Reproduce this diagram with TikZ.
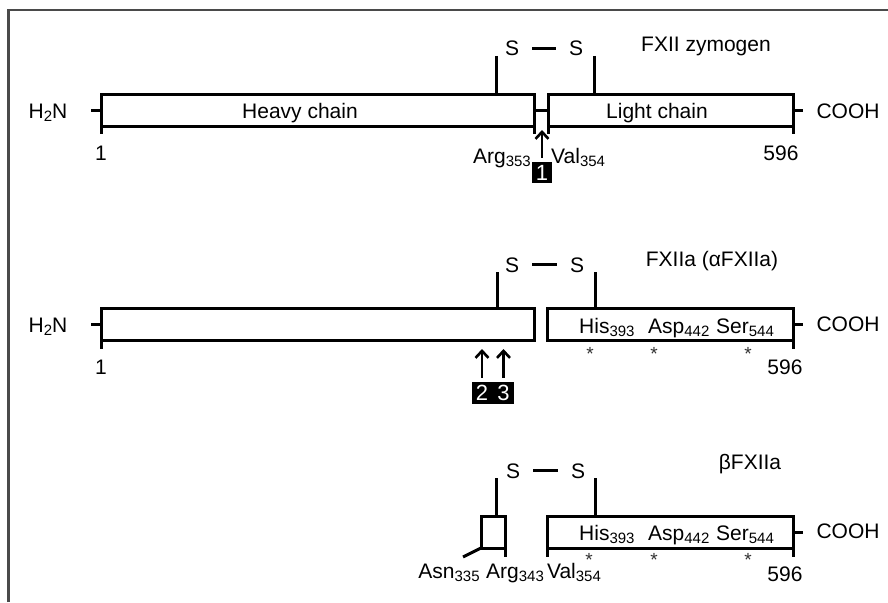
\documentclass[tikz,border=0pt]{standalone}
\usepackage{fontspec}
\setmainfont{Liberation Sans}
\usepackage{xcolor}
\usepackage{tikz}
\usetikzlibrary{arrows.meta}

\definecolor{framegray}{HTML}{4A4A4A}
\newcommand{\subn}[1]{\raisebox{-0.35ex}{\fontsize{15}{17}\selectfont #1}}

\tikzset{
  chainbox/.style={draw, line width=3pt, minimum height=32pt, inner sep=0pt, outer sep=0pt, anchor=north west},
  lbl/.style={font=\fontsize{21}{25}\selectfont, inner sep=0pt, anchor=base},
  bar/.style={line width=3pt},
  numbox/.style={fill=black, text=white, minimum width=20pt, minimum height=21pt, inner sep=0pt, font=\fontsize{22}{22}\selectfont},
  star/.style={font=\fontsize{19}{20}\selectfont, text=black!80, inner sep=0pt, anchor=base},
  cutarrow/.style={line width=2.6pt, -{Straight Barb[length=7pt,width=13pt,line width=2.6pt]}}
}

\begin{document}
\begin{tikzpicture}[x=1pt, y=-1pt]
    \useasboundingbox (0,0) rectangle (888,602);

    % Frame
    \draw[framegray, line width=2.2pt] (8.5,602) -- (8.5,10) -- (888,10);

    % FXII zymogen
    \node[chainbox, minimum width=433pt] (heavyA) at (101,94) {};
    \node[chainbox, minimum width=245pt] (lightA) at (548,94) {};
    \node[lbl] (heavyAtxt) at (300,118) {Heavy chain};
    \node[lbl] (lightAtxt) at (657,118) {Light chain};
    \node[lbl] (nA) at (48,118) {H\subn{2}N};
    \node[lbl] (cA) at (848,118) {COOH};
    \draw[bar] (heavyA.west) -- ++(-10,0);
    \draw[bar] (lightA.east) -- ++(10,0);
    \draw[bar] (heavyA.east) -- (lightA.west);
    \draw[bar] (heavyA.south west) -- ++(0,8);
    \draw[bar] (lightA.south east) -- ++(0,8);
    \draw[bar] (heavyA.south east) -- ++(0,8);
    \draw[bar] (lightA.south west) -- ++(0,8);
    \node[lbl] (startA) at (101,160) {1};
    \node[lbl] (endA) at (781,160) {596};
    \node[lbl, anchor=base east] (argA) at (531,163) {Arg\subn{353}};
    \node[lbl, anchor=base west] (valA) at (551,163) {Val\subn{354}};
    \node[numbox] (cut1) at (542,172.5) {1};
    \coordinate (tip1) at (542,130);
    \draw[cutarrow, shorten <=4pt] (cut1.north) -- (tip1);

    % disulfide bond
    \node[lbl] (sA1) at (512,56) {S};
    \node[lbl] (sA2) at (576,56) {S};
    \draw[bar, shorten <=13pt, shorten >=13pt] (sA1.east) -- (sA2.west);
    \coordinate (linkA1) at (496,56);
    \coordinate (linkA2) at (594,56);
    \draw[bar] (linkA1) -- (linkA1 |- heavyA.north);
    \draw[bar] (linkA2) -- (linkA2 |- lightA.north);
    \node[lbl] (titleA) at (706,52) {FXII zymogen};

    % FXIIa (alpha FXIIa)
    \node[chainbox, minimum width=433pt] (heavyB) at (101,308) {};
    \node[chainbox, minimum width=246pt] (lightB) at (547,308) {};
    \node[lbl] (nB) at (48,332) {H\subn{2}N};
    \node[lbl] (cB) at (848,331) {COOH};
    \draw[bar] (heavyB.west) -- ++(-10,0);
    \draw[bar] (lightB.east) -- ++(10,0);
    \draw[bar] (heavyB.south west) -- ++(0,9);
    \draw[bar] (lightB.south east) -- ++(0,9);
    \node[lbl] (startB) at (101,374) {1};
    \node[lbl] (endB) at (785,374) {596};
    \node[lbl, anchor=base west] (hisB) at (579,333) {His\subn{393}};
    \node[lbl, anchor=base west] (aspB) at (648,333) {Asp\subn{442}};
    \node[lbl, anchor=base west] (serB) at (716,333) {Ser\subn{544}};
    \foreach \x in {590,654,748}
      \node[star] (starB\x) at (\x,360) {*};
    \node[numbox, minimum width=21pt, minimum height=22pt] (cut2) at (482,393) {2};
    \node[numbox, minimum width=21pt, minimum height=22pt] (cut3) at (503.5,393) {3};
    \coordinate (tip2) at (482,349);
    \coordinate (tip3) at (503.5,349);
    \draw[cutarrow, shorten <=4pt] (cut2.north) -- (tip2);
    \draw[cutarrow, shorten <=4pt] (cut3.north) -- (tip3);

    \node[lbl] (sB1) at (512,272) {S};
    \node[lbl] (sB2) at (577,272) {S};
    \draw[bar, shorten <=13pt, shorten >=13pt] (sB1.east) -- (sB2.west);
    \coordinate (linkB1) at (497,272);
    \coordinate (linkB2) at (595,272);
    \draw[bar] (linkB1) -- (linkB1 |- heavyB.north);
    \draw[bar] (linkB2) -- (linkB2 |- lightB.north);
    \node[lbl] (titleB) at (712,266) {FXIIa (αFXIIa)};

    % beta FXIIa
    \node[chainbox, minimum width=24pt] (fragC) at (481,516) {};
    \node[chainbox, minimum width=246pt] (lightC) at (547,516) {};
    \node[lbl] (cC) at (848,538) {COOH};
    \draw[bar] (lightC.east) -- ++(10,0);
    \draw[bar] (fragC.south east) -- ++(0,9);
    \draw[bar] (lightC.south west) -- ++(0,9);
    \draw[bar] (lightC.south east) -- ++(0,9);
    \draw[bar] (fragC.south west) -- ++(-18,9);
    \node[lbl] (asnC) at (449,578) {Asn\subn{335}};
    \node[lbl] (argC) at (515,578) {Arg\subn{343}};
    \node[lbl] (valC) at (574,578) {Val\subn{354}};
    \node[lbl] (endC) at (785,581) {596};
    \node[lbl, anchor=base west] (hisC) at (579,540) {His\subn{393}};
    \node[lbl, anchor=base west] (aspC) at (648,540) {Asp\subn{442}};
    \node[lbl, anchor=base west] (serC) at (716,540) {Ser\subn{544}};
    \foreach \x in {589,654,748}
      \node[star] (starC\x) at (\x,566) {*};

    \node[lbl] (sC1) at (513,478) {S};
    \node[lbl] (sC2) at (578,478) {S};
    \draw[bar, shorten <=13pt, shorten >=13pt] (sC1.east) -- (sC2.west);
    \coordinate (linkC1) at (496,478);
    \coordinate (linkC2) at (595,478);
    \draw[bar] (linkC1) -- (linkC1 |- fragC.north);
    \draw[bar] (linkC2) -- (linkC2 |- lightC.north);
    \node[lbl] (titleC) at (750,469) {βFXIIa};
\end{tikzpicture}
\end{document}
